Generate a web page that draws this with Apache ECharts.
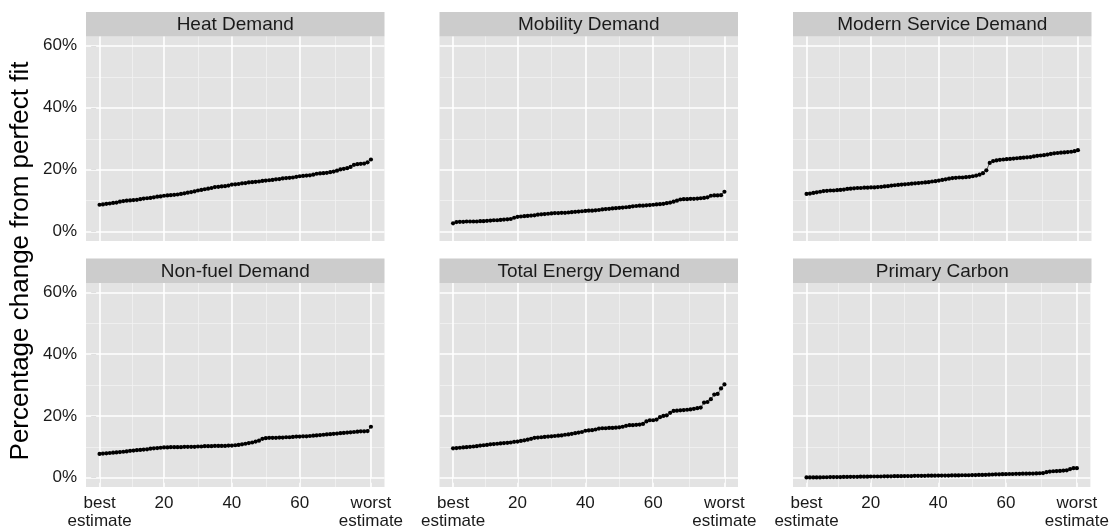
<!DOCTYPE html>
<html>
<head>
    <meta charset="utf-8"/>
    <title>Percentage change from perfect fit</title>
    <script src="https://cdn.jsdelivr.net/npm/echarts@6/dist/echarts.min.js"></script>
    <style>
        html, body { margin: 0; padding: 0; background: #fff; }
        #main { width: 1112px; height: 530px; }
    </style>
</head>
<body>
<div id="main"></div>
<script>
    // facet titles, row by row
    var panelTitles = ['Heat Demand', 'Mobility Demand', 'Modern Service Demand',
        'Non-fuel Demand', 'Total Energy Demand', 'Primary Carbon'];

    var xTickValues = [1, 20, 40, 60, 81];
    var xTickLabels = ['best\nestimate', '20', '40', '60', 'worst\nestimate'];
    var xMinorValues = [10.5, 30, 50, 70.5];
    var yTickValues = [0, 20, 40, 60];
    var yMinorValues = [10, 30, 50];

    // percentage change from perfect fit, estimates ranked best -> worst
    var heatDemand = [8.7, 8.8, 9.0, 9.1, 9.3, 9.4, 9.7, 9.9, 10.0, 10.1,
        10.2, 10.3, 10.5, 10.7, 10.8, 10.9, 11.1, 11.3, 11.4, 11.6,
        11.7, 11.8, 11.9, 12.0, 12.2, 12.4, 12.6, 12.8, 13.0, 13.3,
        13.5, 13.7, 13.9, 14.1, 14.4, 14.5, 14.6, 14.7, 14.9, 15.2,
        15.3, 15.4, 15.6, 15.7, 15.9, 16.0, 16.1, 16.2, 16.4, 16.5,
        16.6, 16.7, 16.9, 17.0, 17.2, 17.3, 17.4, 17.5, 17.7, 17.9,
        18.0, 18.1, 18.2, 18.4, 18.7, 18.8, 18.9, 19.0, 19.2, 19.4,
        19.7, 20.1, 20.3, 20.5, 20.9, 21.6, 21.8, 21.9, 22.0, 22.4,
        23.3];
    var mobilityDemand = [2.7, 3.1, 3.2, 3.2, 3.3, 3.3, 3.3, 3.3, 3.4, 3.4,
        3.5, 3.6, 3.7, 3.7, 3.8, 3.9, 4.0, 4.1, 4.5, 4.8,
        4.9, 5.0, 5.1, 5.2, 5.3, 5.5, 5.6, 5.7, 5.8, 5.9,
        6.0, 6.0, 6.1, 6.1, 6.2, 6.3, 6.4, 6.5, 6.6, 6.7,
        6.8, 6.8, 6.9, 7.0, 7.2, 7.3, 7.4, 7.5, 7.6, 7.7,
        7.8, 7.9, 8.0, 8.2, 8.3, 8.4, 8.4, 8.5, 8.6, 8.7,
        8.8, 8.9, 9.0, 9.2, 9.4, 9.7, 10.0, 10.4, 10.5, 10.5,
        10.6, 10.6, 10.7, 10.8, 10.9, 11.1, 11.6, 11.7, 11.7, 11.8,
        12.9];
    var modernServiceDemand = [12.2, 12.3, 12.5, 12.7, 12.9, 13.1, 13.2, 13.3, 13.3, 13.4,
        13.5, 13.6, 13.8, 13.9, 14.0, 14.1, 14.1, 14.2, 14.2, 14.3,
        14.3, 14.4, 14.5, 14.6, 14.7, 14.9, 15.0, 15.1, 15.2, 15.3,
        15.4, 15.5, 15.6, 15.7, 15.8, 15.9, 16.0, 16.2, 16.3, 16.5,
        16.7, 16.9, 17.1, 17.3, 17.4, 17.5, 17.5, 17.6, 17.7, 17.9,
        18.1, 18.4, 18.9, 19.8, 22.2, 22.8, 23.0, 23.2, 23.3, 23.4,
        23.5, 23.6, 23.7, 23.8, 23.9, 24.0, 24.1, 24.3, 24.5, 24.6,
        24.7, 24.9, 25.1, 25.3, 25.4, 25.5, 25.6, 25.7, 25.8, 26.0,
        26.3];
    var nonFuelDemand = [7.7, 7.8, 7.9, 8.0, 8.1, 8.2, 8.3, 8.4, 8.5, 8.7,
        8.8, 8.9, 9.0, 9.1, 9.2, 9.4, 9.5, 9.6, 9.7, 9.8,
        9.8, 9.9, 9.9, 9.9, 9.9, 10.0, 10.0, 10.0, 10.0, 10.1,
        10.1, 10.2, 10.2, 10.2, 10.3, 10.3, 10.3, 10.3, 10.4, 10.4,
        10.5, 10.6, 10.8, 11.0, 11.2, 11.4, 11.7, 12.0, 12.6, 12.8,
        12.9, 12.9, 12.9, 13.0, 13.0, 13.1, 13.1, 13.2, 13.3, 13.3,
        13.4, 13.4, 13.5, 13.6, 13.7, 13.8, 13.9, 14.0, 14.1, 14.2,
        14.3, 14.4, 14.5, 14.6, 14.7, 14.8, 14.9, 15.0, 15.0, 15.1,
        16.5];
    var totalEnergyDemand = [9.5, 9.6, 9.7, 9.8, 9.9, 10.0, 10.1, 10.2, 10.4, 10.5,
        10.6, 10.8, 10.9, 11.0, 11.1, 11.2, 11.3, 11.4, 11.6, 11.7,
        11.9, 12.1, 12.3, 12.6, 12.9, 13.0, 13.1, 13.2, 13.3, 13.4,
        13.5, 13.6, 13.7, 13.9, 14.0, 14.2, 14.4, 14.6, 14.8, 15.2,
        15.3, 15.4, 15.6, 15.9, 16.0, 16.0, 16.1, 16.1, 16.2, 16.3,
        16.5, 16.8, 17.0, 17.0, 17.1, 17.2, 17.4, 18.2, 18.6, 18.6,
        18.8, 19.6, 20.0, 20.2, 21.0, 21.6, 21.7, 21.8, 21.9, 22.0,
        22.1, 22.3, 22.5, 22.7, 24.3, 24.5, 25.4, 26.9, 27.1, 28.9,
        30.2];
    var primaryCarbon = [0.1, 0.1, 0.1, 0.1, 0.1, 0.15, 0.15, 0.2, 0.2, 0.2,
        0.2, 0.25, 0.25, 0.3, 0.3, 0.3, 0.35, 0.35, 0.35, 0.4,
        0.4, 0.4, 0.4, 0.45, 0.45, 0.45, 0.5, 0.5, 0.5, 0.55,
        0.55, 0.55, 0.6, 0.6, 0.6, 0.6, 0.65, 0.65, 0.65, 0.7,
        0.7, 0.7, 0.7, 0.75, 0.75, 0.75, 0.8, 0.8, 0.8, 0.85,
        0.85, 0.9, 0.9, 0.95, 1.0, 1.05, 1.1, 1.1, 1.15, 1.15,
        1.2, 1.2, 1.25, 1.25, 1.3, 1.3, 1.35, 1.35, 1.4, 1.45,
        1.5, 1.8, 2.0, 2.1, 2.15, 2.2, 2.3, 2.4, 2.8, 3.1,
        3.1];

    var panelData = [heatDemand, mobilityDemand, modernServiceDemand,
        nonFuelDemand, totalEnergyDemand, primaryCarbon];

    var fontFamily = '"Liberation Sans", Arial, sans-serif';
    var colLeft = [86, 439.5, 793];
    var panelW = 298.5;
    var stripTop = [12, 258.5];
    var stripH = 24.5;
    var panelH = 204.5;

    var grids = [], xAxes = [], yAxes = [], series = [], graphics = [];

    for (var i = 0; i < panelData.length; i++) {
        var row = Math.floor(i / 3);
        var col = i % 3;
        // note: not "top", that name is window.top
        var panelTop = stripTop[row] + stripH;
        var points = panelData[i].map(function (v, k) { return [k + 1, v]; });

        grids.push({
            left: colLeft[col], top: panelTop, width: panelW, height: panelH,
            show: true, backgroundColor: '#E3E3E3', borderWidth: 0
        });

        xAxes.push({
            gridIndex: i, type: 'value', min: -3, max: 85,
            axisLine: {show: false},
            splitLine: {show: false},
            axisTick: {
                show: row === 1, customValues: xTickValues, length: 5,
                lineStyle: {color: '#7F7F7F', width: 1}
            },
            axisLabel: {
                show: row === 1, customValues: xTickValues, margin: 7,
                color: '#1A1A1A', fontSize: 17, fontFamily: fontFamily, lineHeight: 18,
                formatter: function (v) {
                    var k = xTickValues.indexOf(v);
                    return k >= 0 ? xTickLabels[k] : '';
                }
            }
        });

        yAxes.push({
            gridIndex: i, type: 'value', min: -3, max: 63,
            axisLine: {show: false},
            splitLine: {show: false},
            axisTick: {
                show: col === 0, customValues: yTickValues, length: 5,
                lineStyle: {color: '#7F7F7F', width: 1}
            },
            axisLabel: {
                show: col === 0, customValues: yTickValues, margin: 9,
                color: '#1A1A1A', fontSize: 17, fontFamily: fontFamily,
                formatter: function (v) { return v + '%'; }
            }
        });

        // panel grid as mark lines, kept under the points
        var lines = [];
        xMinorValues.forEach(function (v) {
            lines.push({xAxis: v, lineStyle: {color: '#F2F2F2', width: 0.8, type: 'solid'}});
        });
        yMinorValues.forEach(function (v) {
            lines.push({yAxis: v, lineStyle: {color: '#F2F2F2', width: 0.8, type: 'solid'}});
        });
        xTickValues.forEach(function (v) {
            lines.push({xAxis: v, lineStyle: {color: '#FFFFFF', width: 1.6, type: 'solid'}});
        });
        yTickValues.forEach(function (v) {
            lines.push({yAxis: v, lineStyle: {color: '#FFFFFF', width: 1.6, type: 'solid'}});
        });

        // thin connecting line, mark lines hang off it
        series.push({
            type: 'line', xAxisIndex: i, yAxisIndex: i, z: 2,
            data: points, showSymbol: false, silent: true, animation: false,
            lineStyle: {color: '#000', width: 0.6},
            markLine: {symbol: 'none', silent: true, animation: false, z: 1, label: {show: false}, data: lines}
        });

        series.push({
            name: panelTitles[i], type: 'scatter', xAxisIndex: i, yAxisIndex: i, z: 3,
            data: points, symbol: 'circle', symbolSize: 4.2,
            itemStyle: {color: '#000', opacity: 1},
            animation: false
        });

        // facet strip
        graphics.push({
            type: 'rect', left: colLeft[col], top: stripTop[row],
            shape: {width: panelW, height: stripH},
            style: {fill: '#CCCCCC'}, silent: true
        });
        graphics.push({
            type: 'text', x: colLeft[col] + panelW / 2, y: stripTop[row] + stripH / 2 + 1,
            style: {
                text: panelTitles[i], fill: '#1A1A1A', font: '19px ' + fontFamily,
                textAlign: 'center', textVerticalAlign: 'middle'
            }, silent: true
        });
    }

    graphics.push({
        type: 'text', x: 21, y: 261, rotation: Math.PI / 2,
        style: {
            text: 'Percentage change from perfect fit', fill: '#000',
            font: '26px ' + fontFamily, textAlign: 'center', textVerticalAlign: 'middle'
        }, silent: true
    });

    var myChart = echarts.init(document.getElementById('main'));
    myChart.setOption({
        backgroundColor: '#FFFFFF',
        animation: false,
        grid: grids,
        xAxis: xAxes,
        yAxis: yAxes,
        series: series,
        graphic: graphics
    });
</script>
</body>
</html>
